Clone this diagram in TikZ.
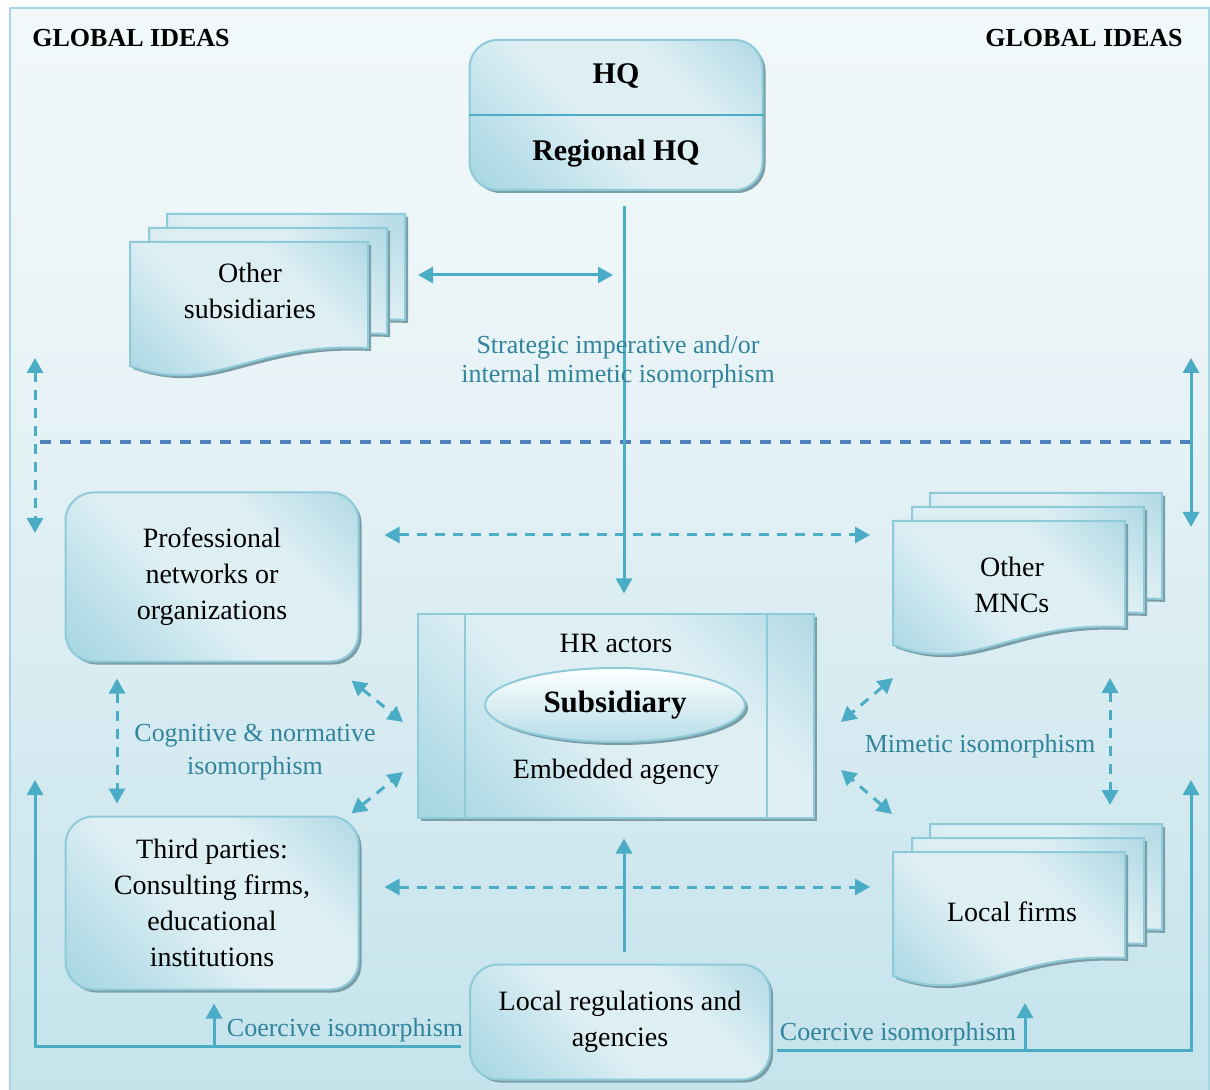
\documentclass[tikz,border=0pt]{standalone}
\usepackage{fontspec}
\setmainfont{Liberation Serif}
\usepackage{tikz}
\usetikzlibrary{arrows.meta,calc,shadows,shapes.geometric,positioning}
\definecolor{aqualine}{HTML}{4BACC6}
\definecolor{aquatext}{HTML}{31849B}
\definecolor{aquadark}{HTML}{90CADA}
\definecolor{aquamid}{HTML}{B6DDE8}
\definecolor{aqualight}{HTML}{DEEFF4}
\definecolor{aquaedge}{HTML}{8FCAD9}
\definecolor{shadowgray}{HTML}{7A9DA7}
\definecolor{dashblue}{HTML}{4F81BD}
\definecolor{bgbot}{HTML}{B4DBE6}
\definecolor{bgmid}{HTML}{C9E5ED}
\definecolor{bgupper}{HTML}{EAF4F7}
\definecolor{framecol}{HTML}{A6D6E1}
\pgfdeclarehorizontalshading{aquaglass}{100bp}{color(0bp)=(aquadark); color(25bp)=(aquamid);
  color(45bp)=(aqualight); color(65bp)=(aqualight); color(100bp)=(aquadark)}
\pgfdeclareverticalshading{bgfade}{100bp}{color(0bp)=(bgbot); color(30bp)=(bgmid);
  color(60bp)=(bgupper); color(100bp)=(white)}
\tikzset{
  treebox/.style = {align=center, inner sep=0pt, font=\fontsize{14}{18}\selectfont},
  glass_r/.style = {treebox, draw=aquaedge, line width=1pt, rounded corners=14pt,
    shading=aquaglass, shading angle=45,
    drop shadow={shadow xshift=1.5pt, shadow yshift=-1.5pt, fill=shadowgray, opacity=1}},% boite arrondie
  glass_s/.style = {glass_r, rounded corners=0pt},% boite carree
  doc_page/.style = {draw=aquaedge, line width=1pt, shading=aquaglass, shading angle=45,
    drop shadow={shadow xshift=1.5pt, shadow yshift=-1.5pt, fill=shadowgray, opacity=1}},% feuille
  core_e/.style = {treebox, ellipse, draw=aquaedge, line width=1pt, top color=white,
    bottom color=aquamid, minimum width=130pt, minimum height=37pt,
    font=\fontsize{15.5}{18}\selectfont\bfseries,
    drop shadow={shadow xshift=1.5pt, shadow yshift=-1.5pt, fill=shadowgray, opacity=1}},
  lbl/.style = {align=center, text=aquatext, font=\fontsize{13}{14.5}\selectfont},
  link/.style = {draw=aqualine, line width=1.5pt},
  dlink/.style = {link, dash pattern=on 5pt off 4pt},
  title/.style = {font=\fontsize{13}{16}\selectfont\bfseries}
}
% #1 x, #2 y, #3 largeur
\newcommand{\docpage}[3]{%
  \path[doc_page] (#1,#2) -- (#1+#3,#2) -- (#1+#3,#2+106)
    .. controls (#1+0.5*#3,#2+100) and (#1+0.35*#3,#2+154) .. (#1,#2+124) -- cycle;}
\newcommand{\docstack}[3]{\docpage{#1+37}{#2-28}{#3}\docpage{#1+19}{#2-14}{#3}\docpage{#1}{#2}{#3}}
\begin{document}
\begin{tikzpicture}[x=0.5pt,y=-0.5pt,>={Triangle[length=7.5pt,width=8pt]}]
\useasboundingbox (0,0) rectangle (1210,1090);
% fond et cadre
\shade[shading=bgfade] (10,8) rectangle (1210,1090);
\draw[framecol, line width=1pt] (10,1100) -- (10,8) -- (1209,8) -- (1209,1100);
\node[title] (gleft) at (131,38) {GLOBAL IDEAS};
\node[title] (gright) at (1084,38) {GLOBAL IDEAS};

% feuilles empilees
\docstack{130}{242}{238}
\docstack{893}{521}{232}
\docstack{893}{852}{232}
\node[treebox] (othsub) at (250,291) {Other\\subsidiaries};
\node[treebox] (mnc) at (1012,585) {Other\\MNCs};
\node[treebox] (locfirm) at (1012,912) {Local firms};

% boites
\node[glass_r, minimum width=146.5pt, minimum height=75pt] (hq) at (616,115) {};
\draw[aqualine, line width=1pt] (hq.west) -- (hq.east);
\node[treebox, font=\fontsize{15}{18}\selectfont\bfseries] (hqtop) at (616,76) {HQ};
\node[treebox, font=\fontsize{15}{18}\selectfont\bfseries] (hqbot) at (616,153) {Regional HQ};
\node[glass_r, minimum width=146.5pt, minimum height=84.5pt] (prof) at (212,577)
  {Professional\\networks or\\organizations};
\node[glass_r, minimum width=146.5pt, minimum height=86.5pt] (third) at (212,903)
  {Third parties:\\Consulting firms,\\educational\\institutions};
\node[glass_r, minimum width=150pt, minimum height=57.5pt] (locreg) at (620,1022)
  {Local regulations and\\agencies};
\node[glass_s, minimum width=198pt, minimum height=101.5pt] (sub) at (616,716) {};
\draw[aquaedge, line width=1pt] ($(sub.north west)+(48,0)$) -- ($(sub.south west)+(48,0)$);
\draw[aquaedge, line width=1pt] ($(sub.north east)+(-48,0)$) -- ($(sub.south east)+(-48,0)$);
\node[treebox] (hract) at (616,643) {HR actors};
\node[core_e] (subell) at (615,705) {Subsidiary};
\node[treebox] (embag) at (616,772) {Embedded agency};

% liens
\coordinate (divl) at (40,442);
\coordinate (divr) at (1190,442);
\draw[dashblue, line width=1.6pt, dash pattern=on 5.5pt off 4.5pt] (divl) -- (divr);
\coordinate (glup) at (35,358);
\coordinate (gldn) at (35,533);
\coordinate (grup) at (1191,358);
\coordinate (grdn) at (1191,527);
\draw[dlink,<->] (glup) -- (gldn);
\draw[link,<->] (grup) -- (grdn);
\draw[link,->] ($(hq.south)+(8,15)$) -- ($(sub.north)+(8,-20)$);
\draw[link,<->] ($(othsub)+(168,-16)$) -- ($(othsub)+(363,-16)$);
\draw[dlink,<->] ($(prof.east)+(25,-42)$) -- ($(mnc)+(-142,-50)$);
\draw[dlink,<->] ($(third.east)+(25,-16)$) -- ($(locfirm)+(-142,-25)$);
\draw[dlink,<->] ($(prof.south)+(-95,16)$) -- ($(third.north)+(-95,-12)$);
\draw[dlink,<->] ($(prof.south east)+(-8,18)$) -- ($(sub.west)+(-14,6)$);
\draw[dlink,<->] ($(third.north east)+(-8,-2)$) -- ($(sub.west)+(-14,56)$);
\draw[dlink,<->] ($(mnc)+(-119,93)$) -- ($(sub.east)+(26,6)$);
\draw[dlink,<->] ($(locfirm)+(-120,-98)$) -- ($(sub.east)+(26,54)$);
\draw[dlink,<->] ($(mnc)+(98,93)$) -- ($(locfirm)+(98,-107)$);
\draw[link,->] ($(locreg.north)+(4,-12)$) -- ($(sub.south)+(8,20)$);
\coordinate (coerl) at (35,780);
\coordinate (coerr) at (1191,780);
\draw[link,->] ($(locreg.west)+(-8,24)$) -| (coerl);
\draw[link,->] ($(locreg.east)+(6,28)$) -| (coerr);
\draw[link,->] ($(third.south)+(2,56)$) -- ($(third.south)+(2,13)$);
\draw[link,->] ($(locfirm)+(13,138)$) -- ($(locfirm)+(13,91)$);

% etiquettes
\node[lbl] (lblstrat) at (618,362) {Strategic imperative and/or\\internal mimetic isomorphism};
\node[lbl, font=\fontsize{13}{16.5}\selectfont] (lblcog) at (255,752) {Cognitive \& normative\\isomorphism};
\node[lbl] (lblmim) at (980,746) {Mimetic isomorphism};
\node[lbl] (lblcoerl) at (345,1030) {Coercive isomorphism};
\node[lbl] (lblcoerr) at (898,1034) {Coercive isomorphism};
\end{tikzpicture}
\end{document}
